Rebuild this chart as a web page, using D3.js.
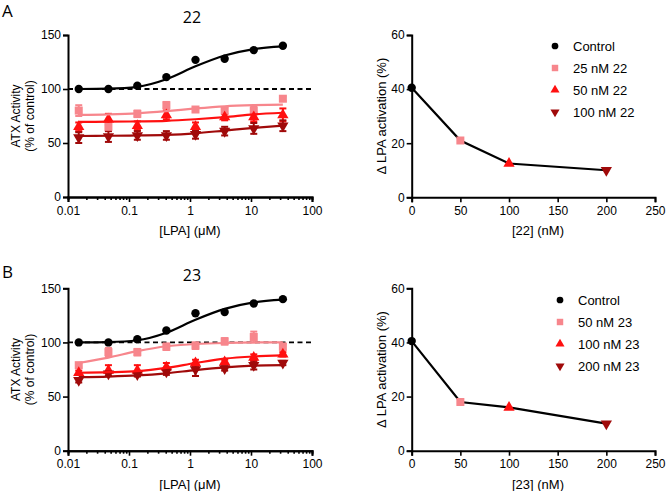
<!DOCTYPE html>
<html><head><meta charset="utf-8">
<script src="https://cdn.jsdelivr.net/npm/d3@7"></script>
<style>body{margin:0;background:#fff}svg{display:block}</style>
</head><body>
<script>
// ---------- data ----------
const lpaConc = [0.015, 0.046, 0.137, 0.41, 1.23, 3.7, 11.1, 33.3];
const logTicks = [0.01, 0.1, 1, 10, 100];
const logTickLabels = ["0.01", "0.1", "1", "10", "100"];
const activityTicks = [0, 50, 100, 150];
const deltaTicks = [0, 20, 40, 60];
const inhibTicks = [0, 50, 100, 150, 200, 250];

// Panel A (compound 22)
const ctrlA = [100, 100, 103, 111, 127, 128, 136, 140];
const ctrlFitA = [100, 100.3, 102, 109, 121, 131, 137, 139.5];
const lowA = [80, 65, 77, 85, 81, 80, 80, 91];
const lowErrA = [5, 4, 3, 3, 2, 3, 4, 2];
const lowFitA = [76, 76.5, 77.5, 79.5, 82, 84, 85, 85.5];
const midA = [65, 72, 66, 76, 65, 74, 74, 76];
const midErrA = [4, 5, 4, 4, 4, 3, 4, 6];
const midFitA = [69.5, 69.7, 70, 70.5, 72, 74, 76.5, 78];
const highA = [55, 56, 57, 57, 58, 61, 63.5, 66];
const highErrA = [5, 5, 4, 4, 4, 4, 5, 5];
const highFitA = [56.5, 56.7, 57, 57.5, 59, 61.5, 64, 66];

// Panel B (compound 23)
const ctrlB = [100, 100, 103, 111, 127, 128, 136, 140];
const ctrlFitB = [100, 100.3, 102, 109, 121, 131, 137, 139.5];
const lowB = [79, 91, 91, 96, 97, 101, 105, 96];
const lowErrB = [2, 4, 3, 3, 3, 3, 5, 3];
const lowFitB = [81, 86, 92, 96.5, 98.5, 99.5, 100, 100];
const midB = [72, 74, 74, 77, 81, 82, 86, 89];
const midErrB = [2, 5, 5, 4, 3, 2, 3, 2];
const midFitB = [72, 72.5, 73.5, 76.5, 81, 85, 87, 88];
const highB = [65, 71, 70.5, 73, 75, 76, 79, 81];
const highErrB = [2, 2, 2, 3, 6, 2, 4, 2];
const highFitB = [68, 68.5, 69.5, 71.5, 74.5, 77, 78.5, 79];

// Right panels
const inhibConcA = [0, 50, 100, 200];
const deltaA = [40.5, 21, 12.5, 10];
const inhibConcB = [0, 50, 100, 200];
const deltaB = [40.5, 18, 16, 10];

const legendA = ["Control", "25 nM 22", "50 nM 22", "100 nM 22"];
const legendB = ["Control", "50 nM 23", "100 nM 23", "200 nM 23"];

// ---------- styles ----------
const colors = ["#000000", "#F7868C", "#FF1010", "#A00A0A"];
const shapes = [d3.symbolCircle, d3.symbolSquare, d3.symbolTriangle, d3.symbolTriangle];
const rotations = [0, 0, 0, 180];
const sizes = [55, 64, 55, 55];
const FT = "'Liberation Sans', Arial, sans-serif";
const FO = "'Open Sans', 'Liberation Sans', sans-serif";

const svg = d3.select("body").append("svg").attr("width", 666).attr("height", 491);

function sym(g, i, x, y, scale) {
  const s = scale || 1;
  g.append("path")
    .attr("d", d3.symbol().type(shapes[i]).size(sizes[i] * s)())
    .attr("transform", `translate(${x},${y}) rotate(${rotations[i]})`)
    .attr("fill", colors[i]);
}

function styleAxis(g) {
  g.select(".domain").attr("stroke", "#000").attr("stroke-width", 2);
  g.selectAll(".tick line").attr("stroke", "#000").attr("stroke-width", 1.6);
  g.selectAll(".tick text").attr("font-family", FT).attr("font-size", 12).attr("fill", "#000");
}

function leftPanel(opt) {
  const x = d3.scaleLog().domain([0.01, 100]).range([68, 312]);
  const y = d3.scaleLinear().domain([0, 150]).range([opt.y0, opt.y150]);
  const g = svg.append("g");

  g.append("text").attr("x", 2).attr("y", opt.letterY).attr("font-family", FO).attr("font-size", 17)
    .attr("fill", "#000").text(opt.letter);
  g.append("text").attr("x", 192).attr("y", opt.titleY).attr("text-anchor", "middle").attr("font-family", FO)
    .attr("font-size", 16).attr("fill", "#000").text(opt.title);

  g.append("line").attr("x1", x(0.01)).attr("x2", x(100)).attr("y1", y(100)).attr("y2", y(100))
    .attr("stroke", "#000").attr("stroke-width", 1.8).attr("stroke-dasharray", "5,3.5");

  const line = d3.line().x((d, i) => x(lpaConc[i])).y(d => y(d)).curve(d3.curveMonotoneX);
  const series = opt.series;
  series.forEach((s, k) => {
    if (!s.err) return;
    s.vals.forEach((v, i) => {
      const cx = x(lpaConc[i]);
      const e = s.err[i];
      g.append("line").attr("x1", cx).attr("x2", cx).attr("y1", y(v - e)).attr("y2", y(v + e))
        .attr("stroke", colors[k]).attr("stroke-width", 2);
      [v - e, v + e].forEach(w => g.append("line").attr("x1", cx - 3.5).attr("x2", cx + 3.5)
        .attr("y1", y(w)).attr("y2", y(w)).attr("stroke", colors[k]).attr("stroke-width", 2));
    });
  });
  series.forEach((s, k) => {
    s.vals.forEach((v, i) => sym(g, k, x(lpaConc[i]), y(v)));
  });
  series.forEach((s, k) => {
    g.append("path").attr("d", line(s.fit)).attr("fill", "none").attr("stroke", colors[k]).attr("stroke-width", 2.2);
  });

  const minor = [];
  for (let d = -2; d < 2; d++) for (let m = 2; m <= 9; m++) minor.push(m * Math.pow(10, d));
  g.append("g").attr("transform", `translate(0,${opt.y0})`)
    .call(d3.axisBottom(x).tickValues(minor).tickSize(3).tickFormat(""))
    .call(styleAxis);
  g.append("g").attr("transform", `translate(0,${opt.y0})`)
    .call(d3.axisBottom(x).tickValues(logTicks).tickSize(5).tickPadding(4)
      .tickFormat((d, i) => logTickLabels[i]))
    .call(styleAxis);
  g.append("g").attr("transform", `translate(68,0)`)
    .call(d3.axisLeft(y).tickValues(activityTicks).tickSize(5).tickPadding(2))
    .call(styleAxis);

  g.append("text").attr("x", 190).attr("y", opt.y0 + 38).attr("text-anchor", "middle")
    .attr("font-family", FT).attr("font-size", 13).attr("fill", "#000").text("[LPA] (μM)");
  const cy = (opt.y0 + opt.y150) / 2;
  g.append("text").attr("transform", `translate(20,${cy}) rotate(-90)`).attr("text-anchor", "middle")
    .attr("font-family", FT).attr("font-size", 12).attr("fill", "#000").text("ATX Activity");
  g.append("text").attr("transform", `translate(34,${cy}) rotate(-90)`).attr("text-anchor", "middle")
    .attr("font-family", FT).attr("font-size", 12).attr("fill", "#000").text("(% of control)");
}

function rightPanel(opt) {
  const x = d3.scaleLinear().domain([0, 250]).range([411.7, 655]);
  const y = d3.scaleLinear().domain([0, 60]).range([opt.y0, opt.y60]);
  const g = svg.append("g");
  const line = d3.line().x(d => x(d[0])).y(d => y(d[1]));
  const pts = opt.conc.map((c, i) => [c, opt.vals[i]]);
  g.append("path").attr("d", line(pts)).attr("fill", "none").attr("stroke", "#000").attr("stroke-width", 2.2);
  pts.forEach((p, i) => sym(g, i, x(p[0]), y(p[1]), 1.0));

  g.append("g").attr("transform", `translate(0,${opt.y0})`)
    .call(d3.axisBottom(x).tickValues(inhibTicks).tickSize(5).tickPadding(4))
    .call(styleAxis);
  g.append("g").attr("transform", `translate(411.7,0)`)
    .call(d3.axisLeft(y).tickValues(deltaTicks).tickSize(5).tickPadding(2))
    .call(styleAxis);

  g.append("text").attr("x", 538).attr("y", opt.y0 + 38).attr("text-anchor", "middle")
    .attr("font-family", FT).attr("font-size", 13).attr("fill", "#000").text(opt.xTitle);
  const cy = (opt.y0 + opt.y60) / 2;
  g.append("text").attr("transform", `translate(386,${cy}) rotate(-90)`).attr("text-anchor", "middle")
    .attr("font-family", FT).attr("font-size", 13).attr("fill", "#000").text("Δ LPA activation (%)");

  opt.legend.forEach((t, i) => {
    const ly = opt.legY + i * 22;
    sym(g, i, opt.legX, ly, 0.65);
    g.append("text").attr("x", opt.legX + 18).attr("y", ly + 4.5).attr("font-family", FT)
      .attr("font-size", 13).attr("fill", "#000").text(t);
  });
}

leftPanel({
  letter: "A", letterY: 17, title: "22", titleY: 23, y0: 197, y150: 35,
  series: [
    { vals: ctrlA, fit: ctrlFitA },
    { vals: lowA, err: lowErrA, fit: lowFitA },
    { vals: midA, err: midErrA, fit: midFitA },
    { vals: highA, err: highErrA, fit: highFitA }
  ]
});
leftPanel({
  letter: "B", letterY: 278, title: "23", titleY: 281, y0: 450.7, y150: 288.3,
  series: [
    { vals: ctrlB, fit: ctrlFitB },
    { vals: lowB, err: lowErrB, fit: lowFitB },
    { vals: midB, err: midErrB, fit: midFitB },
    { vals: highB, err: highErrB, fit: highFitB }
  ]
});
rightPanel({ conc: inhibConcA, vals: deltaA, y0: 197.3, y60: 35, xTitle: "[22] (nM)",
  legend: legendA, legX: 555, legY: 46 });
rightPanel({ conc: inhibConcB, vals: deltaB, y0: 450.7, y60: 288.3, xTitle: "[23] (nM)",
  legend: legendB, legX: 560, legY: 300 });
</script>
</body></html>
